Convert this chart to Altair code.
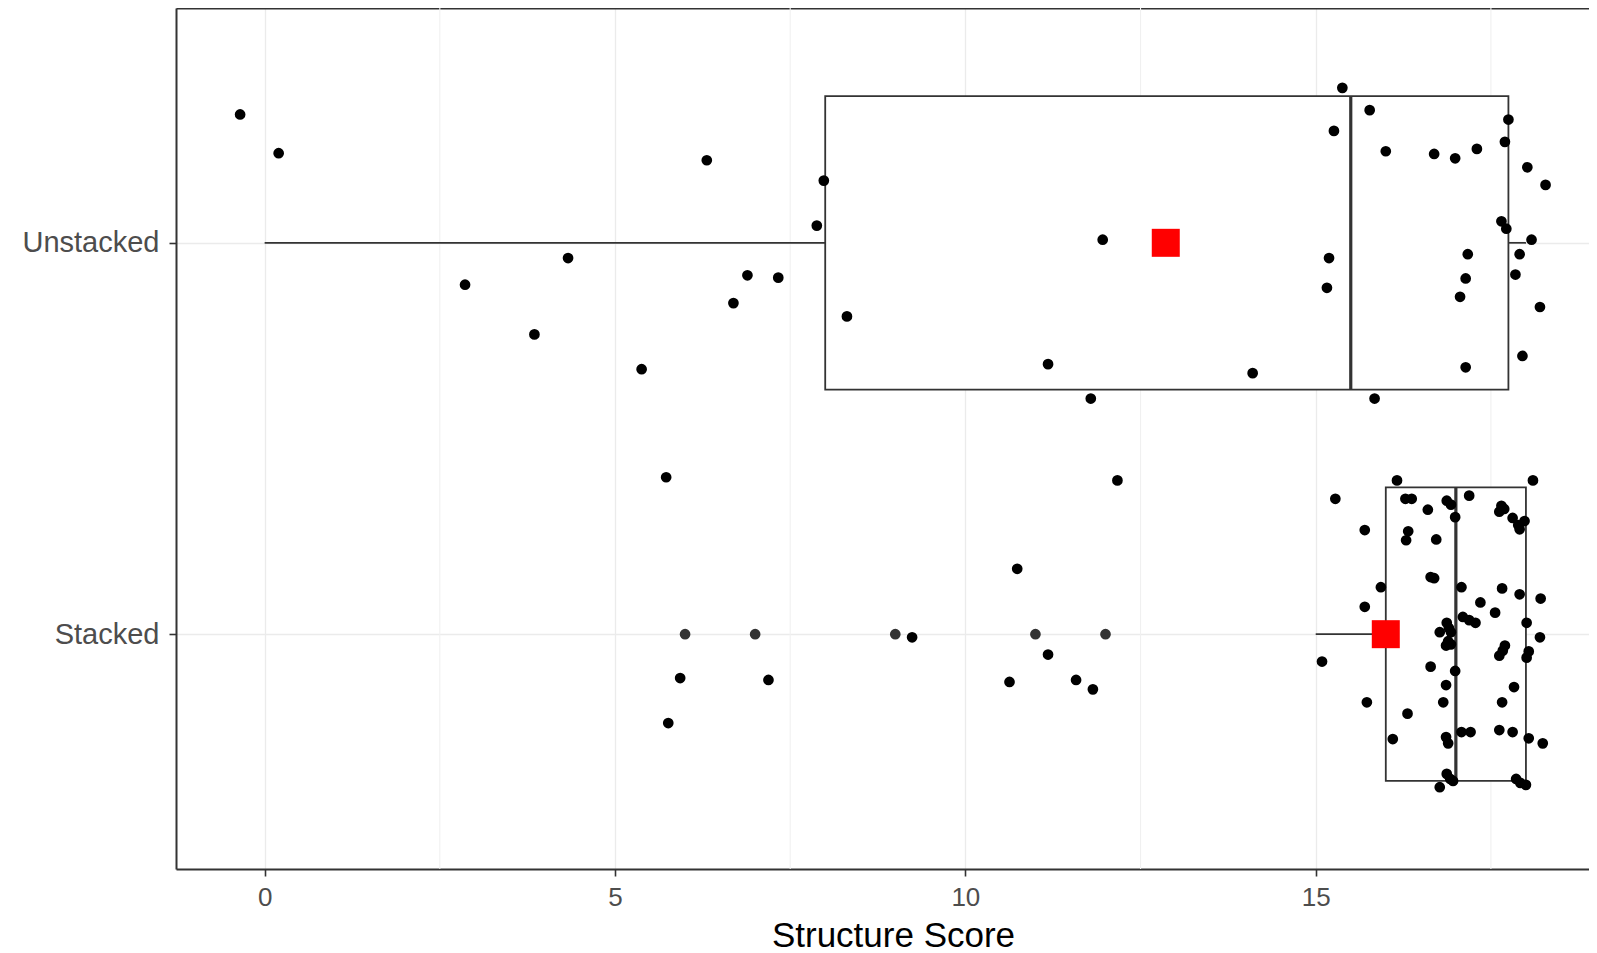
import altair as alt
import pandas as pd

# ---------------- data ----------------
groups = ["Unstacked", "Stacked"]
group_pos = [2, 1]

# box-plot summary per group
whisker_low = [0.0, 15.0]
q1 = [8.0, 16.0]
median = [15.5, 17.0]
q3 = [17.75, 18.0]
whisker_high = [18.0, 18.0]
means = [12.86, 16.0]

# boxplot outliers (Stacked group)
outlier_scores = [6.0, 7.0, 9.0, 11.0, 12.0]

# jittered observations: score and vertical jitter (category units)
uns_x = [-0.35, 0.20, 6.31, 7.98, 7.88, 4.33, 2.86, 6.89, 7.33, 6.69, 3.85, 8.31, 5.38,
         11.96, 11.18, 11.79, 14.10, 15.38, 15.26, 15.77, 16.00, 16.69, 16.99, 17.30,
         17.75, 17.70, 18.02, 18.28, 17.65, 17.72, 18.08, 17.91, 17.17, 15.19, 15.16,
         17.14, 17.85, 17.06, 18.20, 17.95, 17.14, 15.84]
uns_dy = [0.328, 0.229, 0.211, 0.159, 0.044, -0.039, -0.107, -0.083, -0.089, -0.154,
          -0.234, -0.188, -0.323, 0.008, -0.310, -0.398, -0.333, 0.396, 0.286, 0.339,
          0.234, 0.227, 0.216, 0.240, 0.315, 0.258, 0.193, 0.148, 0.055, 0.036, 0.008,
          -0.029, -0.029, -0.039, -0.115, -0.091, -0.081, -0.138, -0.164, -0.289,
          -0.318, -0.398]

stk_x = [5.73, 12.17, 10.74, 9.24, 11.18, 5.93, 7.19, 5.76, 10.63, 11.58, 11.82,
         15.28, 16.16, 18.10, 16.28, 16.37, 16.60, 16.87, 16.93, 16.99, 17.19, 17.65,
         17.69, 17.62, 17.81, 17.89, 17.98, 17.91,
         15.70, 16.32, 16.29, 16.72, 16.64, 16.69, 15.93, 17.08, 17.66, 17.91, 18.21,
         15.70, 17.35, 17.56, 17.10, 17.19, 17.28,
         16.87, 16.90, 16.77, 16.93, 18.01, 18.20, 16.89, 16.93, 16.86, 17.70, 17.67,
         17.62, 18.04, 18.01, 15.09, 16.64, 16.99,
         16.86, 17.83, 15.73, 16.82, 17.66, 16.31, 16.10, 16.86, 16.89, 17.08, 17.21,
         17.62, 17.81, 18.04, 18.24,
         16.87, 16.92, 16.96, 16.77, 17.86, 17.92, 18.00]
stk_dy = [0.401, 0.393, 0.167, -0.008, -0.052, -0.112, -0.117, -0.227, -0.122, -0.117, -0.141,
          0.346, 0.393, 0.393, 0.346, 0.346, 0.318, 0.341, 0.331, 0.299, 0.354, 0.328,
          0.320, 0.313, 0.297, 0.279, 0.289, 0.268,
          0.266, 0.263, 0.240, 0.242, 0.146, 0.143, 0.120, 0.120, 0.117, 0.102, 0.091,
          0.070, 0.081, 0.055, 0.044, 0.036, 0.029,
          0.029, 0.016, 0.005, 0.005, 0.029, -0.008, -0.018, -0.026, -0.029, -0.029,
          -0.042, -0.055, -0.044, -0.060, -0.070, -0.083, -0.094,
          -0.130, -0.135, -0.174, -0.174, -0.174, -0.203, -0.268, -0.263, -0.279,
          -0.250, -0.250, -0.245, -0.250, -0.266, -0.279,
          -0.357, -0.370, -0.375, -0.391, -0.370, -0.380, -0.385]

x_ticks = [0, 5, 10, 15]
x_minor = [2.5, 7.5, 12.5, 17.5]
x_domain = [-1.265, 18.9]
y_domain = [0.4, 2.6]
box_half = 0.375

# ---------------- tables ----------------
summary = pd.DataFrame({
    "group": groups, "pos": group_pos, "wlo": whisker_low, "q1": q1,
    "med": median, "q3": q3, "whi": whisker_high, "mean": means,
})
summary["lo"] = summary["pos"] - box_half
summary["hi"] = summary["pos"] + box_half

pts = pd.DataFrame({
    "score": uns_x + stk_x,
    "pos": [2] * len(uns_x) + [1] * len(stk_x),
    "dy": uns_dy + stk_dy,
})
pts["ypos"] = pts["pos"] + pts["dy"]

outl = pd.DataFrame({"score": outlier_scores, "pos": [1] * len(outlier_scores)})
minor = pd.DataFrame({"v": x_minor})

FONT = "Liberation Sans"
DARK = "#333333"

xs = alt.Scale(domain=x_domain, nice=False, zero=False)
ys = alt.Scale(domain=y_domain, nice=False, zero=False)

y_axis = alt.Axis(values=[1, 2], labelExpr="datum.value == 2 ? 'Unstacked' : 'Stacked'",
                  title=None, labelFontSize=29, labelColor="#4d4d4d", labelFont=FONT,
                  tickSize=7, tickColor=DARK, tickWidth=1.6, labelPadding=10,
                  grid=True, gridColor="#ebebeb", gridWidth=1.3,
                  domain=True, domainColor=DARK, domainWidth=2)

x_axis_bottom = alt.Axis(values=x_ticks, title="Structure Score", titleFontSize=35,
                         titleFont=FONT, titleFontWeight="normal", titleColor="#000000",
                         titlePadding=8, titleX=717, titleAlign="center",
                         labelFontSize=26, labelColor="#4d4d4d",
                         labelFont=FONT, labelPadding=8, tickSize=7, tickColor=DARK,
                         tickWidth=1.6, grid=True, gridColor="#ebebeb", gridWidth=1.3,
                         domain=True, domainColor=DARK, domainWidth=2)

x_axis_top = alt.Axis(orient="top", labels=False, ticks=False, grid=False, title=None,
                      domain=True, domainColor=DARK, domainWidth=2)

minor_grid = alt.Chart(minor).mark_rule(color="#f0f0f0", strokeWidth=1.1).encode(
    x=alt.X("v:Q", scale=xs, axis=None)
)

base = alt.Chart(summary)

whisk_lo = base.mark_rule(color=DARK, strokeWidth=1.7).encode(
    x=alt.X("wlo:Q", scale=xs, axis=x_axis_top), x2="q1:Q",
    y=alt.Y("pos:Q", scale=ys, axis=y_axis),
)
whisk_hi = base.mark_rule(color=DARK, strokeWidth=1.7).encode(
    x=alt.X("q3:Q", scale=xs, axis=None), x2="whi:Q",
    y=alt.Y("pos:Q", scale=ys, axis=y_axis),
)
boxes = base.mark_rect(fill="white", stroke=DARK, strokeWidth=1.8).encode(
    x=alt.X("q1:Q", scale=xs, axis=None), x2="q3:Q",
    y=alt.Y("lo:Q", scale=ys, axis=y_axis), y2="hi:Q",
)
medians = base.mark_rule(color=DARK, strokeWidth=3.2).encode(
    x=alt.X("med:Q", scale=xs, axis=None),
    y=alt.Y("lo:Q", scale=ys, axis=y_axis), y2="hi:Q",
)
outliers = alt.Chart(outl).mark_circle(color=DARK, size=115, opacity=1).encode(
    x=alt.X("score:Q", scale=xs, axis=None),
    y=alt.Y("pos:Q", scale=ys, axis=y_axis),
)
points = alt.Chart(pts).mark_circle(color="#000000", size=115, opacity=1).encode(
    x=alt.X("score:Q", scale=xs, axis=x_axis_bottom),
    y=alt.Y("ypos:Q", scale=ys, axis=y_axis),
)
mean_marks = base.mark_square(color="#ff0000", size=784, opacity=1).encode(
    x=alt.X("mean:Q", scale=xs, axis=None),
    y=alt.Y("pos:Q", scale=ys, axis=y_axis),
)

chart = alt.layer(
    minor_grid, whisk_lo, whisk_hi, boxes, medians, outliers, points, mean_marks
).resolve_axis(x="independent").properties(
    width=1413, height=861,
    autosize=alt.AutoSizeParams(type="none"),
    padding={"left": 168, "top": 0, "right": 0, "bottom": 86},
    background="white",
).configure_view(stroke=None)

chart.save("out.html", embed_options={"renderer": "svg", "actions": False})
